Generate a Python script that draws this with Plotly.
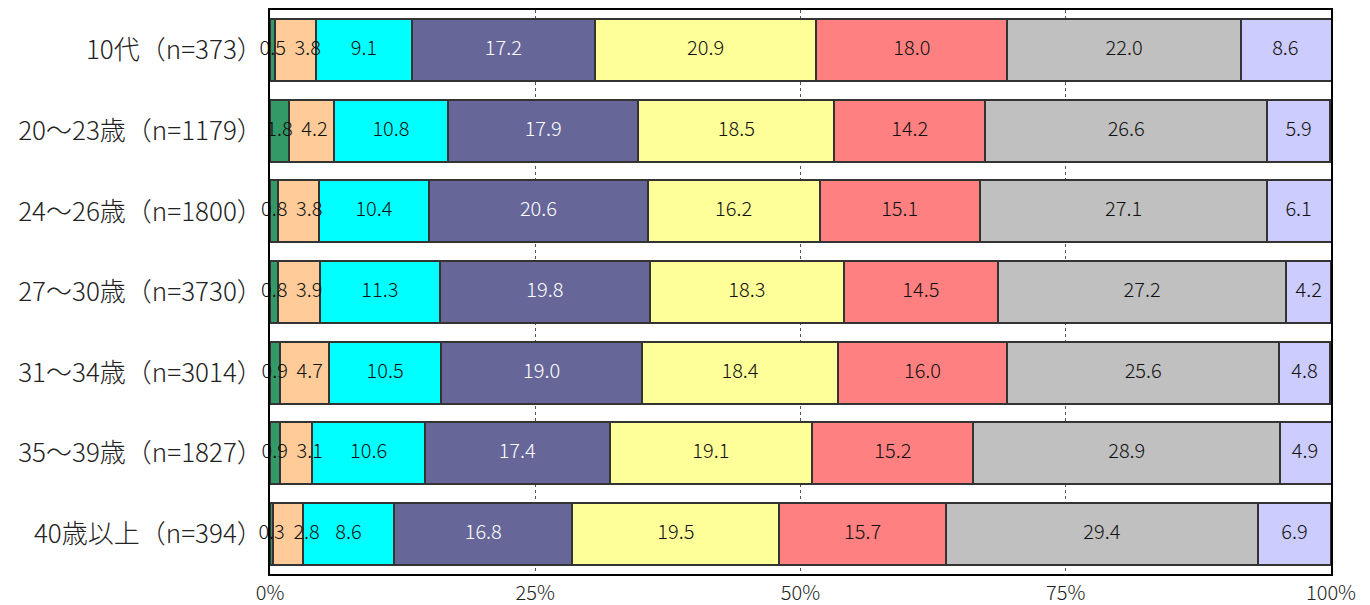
import plotly.graph_objects as go

# Age groups (top to bottom) and the share of each answer (%)
groups = ["10代（n=373）", "20～23歳（n=1179）", "24～26歳（n=1800）", "27～30歳（n=3730）",
          "31～34歳（n=3014）", "35～39歳（n=1827）", "40歳以上（n=394）"]

s1 = [0.5, 1.8, 0.8, 0.8, 0.9, 0.9, 0.3]
s2 = [3.8, 4.2, 3.8, 3.9, 4.7, 3.1, 2.8]
s3 = [9.1, 10.8, 10.4, 11.3, 10.5, 10.6, 8.6]
s4 = [17.2, 17.9, 20.6, 19.8, 19.0, 17.4, 16.8]
s5 = [20.9, 18.5, 16.2, 18.3, 18.4, 19.1, 19.5]
s6 = [18.0, 14.2, 15.1, 14.5, 16.0, 15.2, 15.7]
s7 = [22.0, 26.6, 27.1, 27.2, 25.6, 28.9, 29.4]
s8 = [8.6, 5.9, 6.1, 4.2, 4.8, 4.9, 6.9]

x_ticks = [0, 25, 50, 75, 100]
x_tick_labels = ["0%", "25%", "50%", "75%", "100%"]

series = [s1, s2, s3, s4, s5, s6, s7, s8]
colors = ["#339966", "#FFCC99", "#00FFFF", "#666699", "#FFFF99", "#FF8080", "#C0C0C0", "#CCCCFF"]
text_colors = ["#111111", "#111111", "#111111", "#FFFFFF", "#111111", "#111111", "#111111", "#111111"]

FONT = "Noto Sans CJK JP"
MIN_LABEL_GAP = 3.3  # minimum distance (in %) between the first two labels of a bar

fig = go.Figure()

# stacked segments
for vals, col in zip(series, colors):
    fig.add_trace(go.Bar(
        x=vals, y=groups, orientation="h",
        marker=dict(color=col, line=dict(color="#333333", width=2)),
        textposition="none", hoverinfo="x+y", showlegend=False,
    ))

# value labels centred on each segment; the second label is nudged right
# when the first segment is too thin for both to fit
label_x = []
for k, vals in enumerate(series):
    mids = []
    for i in range(len(groups)):
        start = sum(series[j][i] for j in range(k))
        m = min(start + vals[i] / 2, 100 - vals[i] / 2)
        if k == 1:
            m = max(m, label_x[0][i] + MIN_LABEL_GAP)
        mids.append(m)
    label_x.append(mids)

for vals, tcol, mids in zip(series, text_colors, label_x):
    fig.add_trace(go.Scatter(
        x=mids, y=groups, mode="text",
        text=[f"{v:.1f}" for v in vals],
        textposition="middle center",
        textfont=dict(family=FONT, size=20, color=tcol, weight=300),
        hoverinfo="skip", showlegend=False, cliponaxis=False,
    ))

fig.update_layout(
    barmode="stack", bargap=0.23,
    width=1370, height=605,
    margin=dict(l=270, r=39, t=10, b=31),
    paper_bgcolor="white", plot_bgcolor="white",
    font=dict(family=FONT, color="#222222"),
    xaxis=dict(range=[0, 100], tickvals=x_ticks, ticktext=x_tick_labels,
               showgrid=True, gridcolor="#555555", griddash="dot", gridwidth=1,
               showline=True, linecolor="#000000", linewidth=2, mirror=True,
               zeroline=False, tickfont=dict(family=FONT, size=20, color="#222222", weight=300),
               ticks="", ticklabelstandoff=0, automargin=False, fixedrange=True),
    yaxis=dict(autorange="reversed", showline=True, linecolor="#000000", linewidth=2,
               mirror=True, ticks="", ticklabelstandoff=0, automargin=False,
               tickfont=dict(family=FONT, size=26, color="#222222", weight=300), fixedrange=True),
)

fig.write_html("out.html")
